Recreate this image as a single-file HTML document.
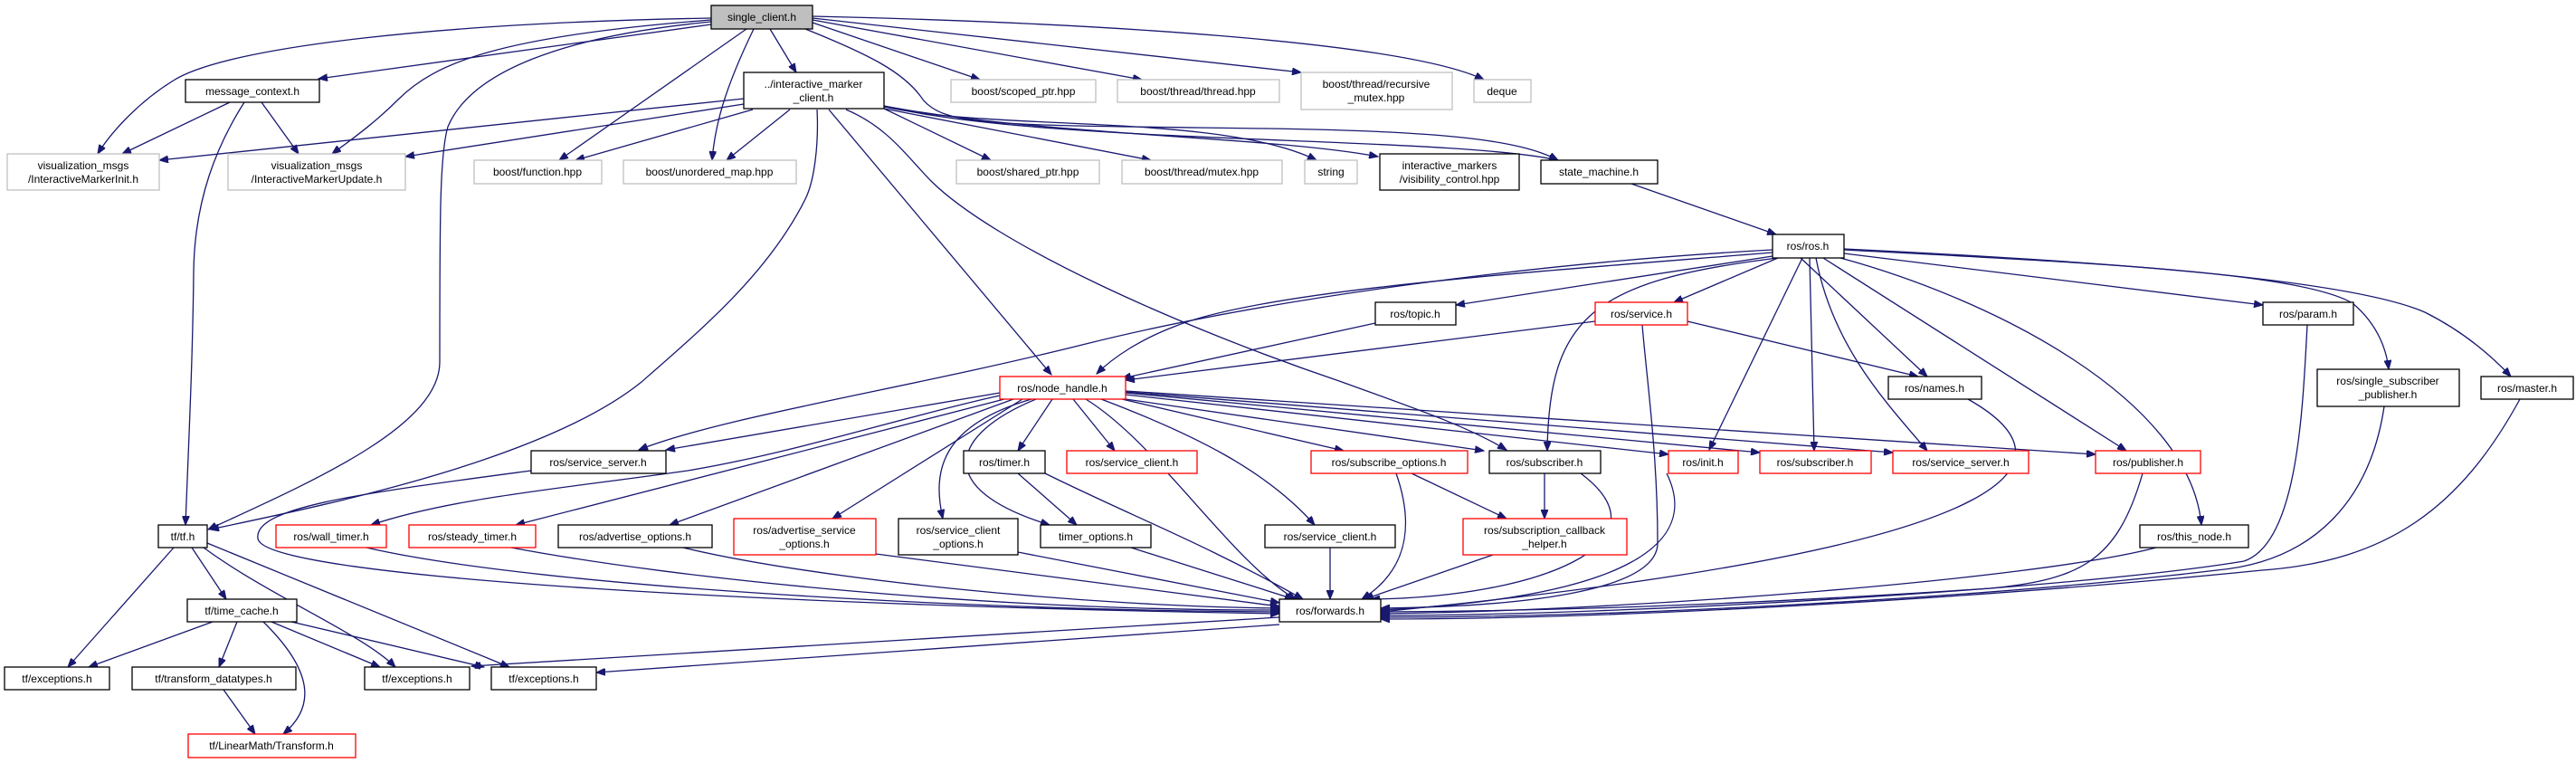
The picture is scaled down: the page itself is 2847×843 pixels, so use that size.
<!DOCTYPE html>
<html><head><meta charset="utf-8"><style>
html,body{margin:0;padding:0;background:#fff;}
svg{display:block;}
text{font-family:"Liberation Sans",sans-serif;font-size:12px;fill:#000;text-anchor:middle;}
.e{fill:none;stroke:#191970;stroke-width:1.3;marker-end:url(#a);}
.k{fill:#fff;stroke:#000;stroke-width:1.3;}
.r{fill:#fff;stroke:#ff0000;stroke-width:1.3;}
.g{fill:#fff;stroke:#bfbfbf;stroke-width:1.3;}
</style></head><body>
<svg width="2847" height="843" viewBox="0 0 2847 843" xmlns="http://www.w3.org/2000/svg">
<defs><marker id="a" markerWidth="11" markerHeight="8" refX="10" refY="4" orient="auto" markerUnits="userSpaceOnUse"><path d="M0,0 L10,4 L0,8 z" fill="#191970" stroke="#191970"/></marker></defs>

<!-- edges from single_client -->
<path class="e" d="M786,20 C500,25 250,50 190,90 C150,115 120,150 108,170"/>
<path class="e" d="M786,27 L352,87"/>
<path class="e" d="M786,22 C550,40 480,70 440,110 C410,140 380,160 367,170"/>
<path class="e" d="M786,24 C620,40 520,80 495,140 C486,170 486,240 486,400 C486,470 350,530 230,585"/>
<path class="e" d="M825,32 L618,177"/>
<path class="e" d="M833,32 C800,100 790,140 787,177"/>
<path class="e" d="M851,32 L880,80"/>
<path class="e" d="M898,25 L1083,88"/>
<path class="e" d="M898,22 L1262,88"/>
<path class="e" d="M898,20 L1438,80"/>
<path class="e" d="M898,18 C1200,25 1550,45 1640,88"/>
<path class="e" d="M890,32 C960,60 1000,80 1020,110 C1045,140 1100,138 1400,142 C1600,145 1680,155 1722,177"/>

<!-- edges from interactive_marker_client -->
<path class="e" d="M822,109 L176,177"/>
<path class="e" d="M822,115 L448,173"/>
<path class="e" d="M832,121 L636,177"/>
<path class="e" d="M873,121 L803,177"/>
<path class="e" d="M916,121 L1162,414"/>
<path class="e" d="M903,121 C905,160 900,200 890,220 C850,300 780,360 709,422 C600,510 350,560 232,585"/>
<path class="e" d="M977,120 L1095,177"/>
<path class="e" d="M977,120 L1272,177"/>
<path class="e" d="M977,118 C1100,145 1350,125 1455,177"/>
<path class="e" d="M977,117 C1150,150 1400,150 1523,173"/>
<path class="e" d="M977,117 C1150,160 1600,150 1722,177"/>
<path class="e" d="M935,121 C980,140 1000,170 1029,200 C1100,270 1300,360 1483,422 C1560,450 1620,470 1665,497"/>

<!-- message_context -->
<path class="e" d="M254,113 L135,170"/>
<path class="e" d="M289,113 L330,170"/>
<path class="e" d="M270,113 C240,160 215,220 214,300 C213,400 208,500 205,580"/>

<!-- state_machine -> ros -->
<path class="e" d="M1803,203 L1963,259"/>

<!-- ros.h edges -->
<path class="e" d="M1959,276 C1700,290 1400,330 1200,380 C1000,430 800,460 706,497"/>
<path class="e" d="M1959,279 C1700,300 1400,320 1300,360 C1260,375 1230,395 1212,413"/>
<path class="e" d="M1959,283 L1609,337"/>
<path class="e" d="M1965,285 L1850,334"/>
<path class="e" d="M1965,285 C1760,310 1712,350 1710,498"/>
<path class="e" d="M1990,285 L2130,416"/>
<path class="e" d="M1992,285 L1889,497"/>
<path class="e" d="M2000,285 L2005,498"/>
<path class="e" d="M2007,285 C2025,380 2080,440 2130,498"/>
<path class="e" d="M2015,285 L2350,498"/>
<path class="e" d="M2034,285 C2200,330 2420,440 2433,580"/>
<path class="e" d="M2038,280 L2501,337"/>
<path class="e" d="M2038,276 C2300,290 2540,300 2600,335 C2630,360 2638,390 2640,408"/>
<path class="e" d="M2038,275 C2350,290 2600,310 2680,345 C2730,370 2760,400 2775,416"/>

<!-- service.h -->
<path class="e" d="M1763,355 L1244,420"/>
<path class="e" d="M1865,355 L2120,416"/>
<path class="e" d="M1815,359 C1820,420 1832,500 1832,600 C1832,650 1700,670 1526,672"/>
<!-- topic -->
<path class="e" d="M1520,357 L1240,418"/>

<!-- node_handle edges -->
<path class="e" d="M1105,434 L736,497"/>
<path class="e" d="M1105,437 C1000,460 880,500 760,520 C620,540 500,550 410,580"/>
<path class="e" d="M1110,441 L570,580"/>
<path class="e" d="M1120,441 L740,580"/>
<path class="e" d="M1130,441 L920,573"/>
<path class="e" d="M1140,441 C1040,470 1030,520 1042,573"/>
<path class="e" d="M1145,441 C1050,480 1030,540 1160,580"/>
<path class="e" d="M1163,441 L1125,498"/>
<path class="e" d="M1186,441 L1232,498"/>
<path class="e" d="M1200,441 C1280,490 1360,620 1432,662"/>
<path class="e" d="M1217,441 C1320,480 1400,520 1453,580"/>
<path class="e" d="M1240,441 L1485,498"/>
<path class="e" d="M1244,441 L1640,498"/>
<path class="e" d="M1244,436 L1844,502"/>
<path class="e" d="M1244,434 L1945,500"/>
<path class="e" d="M1244,433 L2092,500"/>
<path class="e" d="M1244,432 L2316,502"/>

<!-- to forwards -->
<path class="e" d="M2175,441 C2280,500 2300,600 1526,676"/>
<path class="e" d="M2550,359 C2545,450 2540,600 2480,620 C2300,650 1800,680 1526,680"/>
<path class="e" d="M2635,449 C2620,550 2560,620 2450,630 C2200,660 1800,682 1526,682"/>
<path class="e" d="M2785,441 C2720,560 2640,620 2500,630 C2200,660 1800,684 1526,684"/>
<path class="e" d="M2383,605 C2250,640 1800,675 1526,678"/>
<path class="e" d="M2368,523 C2340,620 2300,640 2200,650 C1900,670 1700,675 1526,676"/>
<path class="e" d="M1842,523 C1880,600 1800,660 1526,674"/>
<path class="e" d="M1747,523 C1850,600 1700,660 1515,662"/>
<path class="e" d="M1650,613 L1508,662"/>
<path class="e" d="M1543,523 C1570,600 1540,640 1505,662"/>
<path class="e" d="M1560,523 L1665,573"/>
<path class="e" d="M1707,523 L1707,573"/>
<path class="e" d="M1470,605 L1470,662"/>
<path class="e" d="M1125,523 L1190,580"/>
<path class="e" d="M1155,523 C1250,570 1330,600 1440,662"/>
<path class="e" d="M1250,605 L1430,662"/>
<path class="e" d="M1125,610 L1414,666"/>
<path class="e" d="M968,612 L1414,670"/>
<path class="e" d="M755,605 C900,640 1200,670 1414,672"/>
<path class="e" d="M565,605 C750,640 1100,675 1414,674"/>
<path class="e" d="M405,605 C600,650 1100,675 1414,676"/>
<path class="e" d="M587,520 C400,545 280,560 285,595 C290,640 900,670 1414,678"/>

<!-- forwards -> exceptions -->
<path class="e" d="M1414,690 L659,743"/>
<path class="e" d="M1414,682 L521,736"/>

<!-- tf -->
<path class="e" d="M192,605 L75,737"/>
<path class="e" d="M212,605 L250,662"/>
<path class="e" d="M225,605 C300,660 400,700 437,737"/>
<path class="e" d="M229,600 L563,737"/>
<path class="e" d="M235,687 L98,737"/>
<path class="e" d="M262,687 L242,737"/>
<path class="e" d="M291,687 C345,740 350,780 313,811"/>
<path class="e" d="M300,687 L420,737"/>
<path class="e" d="M322,687 L535,737"/>
<path class="e" d="M247,762 L282,811"/>

<!-- nodes -->
<rect x="786" y="6" width="112" height="26" fill="#bfbfbf" stroke="#000" stroke-width="1.3"/><text x="842" y="23">single_client.h</text>
<rect class="k" x="205" y="88" width="148" height="25"/><text x="279" y="105">message_context.h</text>
<rect class="k" x="822" y="80" width="155" height="40"/><text x="899" y="97">../interactive_marker</text><text x="899" y="112">_client.h</text>
<rect class="g" x="8" y="170" width="168" height="40"/><text x="92" y="187">visualization_msgs</text><text x="92" y="202">/InteractiveMarkerInit.h</text>
<rect class="g" x="252" y="170" width="196" height="40"/><text x="350" y="187">visualization_msgs</text><text x="350" y="202">/InteractiveMarkerUpdate.h</text>
<rect class="g" x="524" y="177" width="141" height="26"/><text x="594" y="194">boost/function.hpp</text>
<rect class="g" x="689" y="177" width="191" height="26"/><text x="784" y="194">boost/unordered_map.hpp</text>
<rect class="g" x="1051" y="88" width="160" height="25"/><text x="1131" y="105">boost/scoped_ptr.hpp</text>
<rect class="g" x="1235" y="88" width="179" height="25"/><text x="1324" y="105">boost/thread/thread.hpp</text>
<rect class="g" x="1438" y="80" width="167" height="41"/><text x="1521" y="97">boost/thread/recursive</text><text x="1521" y="112">_mutex.hpp</text>
<rect class="g" x="1629" y="88" width="63" height="25"/><text x="1660" y="105">deque</text>
<rect class="g" x="1057" y="177" width="158" height="26"/><text x="1136" y="194">boost/shared_ptr.hpp</text>
<rect class="g" x="1240" y="177" width="177" height="26"/><text x="1328" y="194">boost/thread/mutex.hpp</text>
<rect class="g" x="1442" y="177" width="58" height="26"/><text x="1471" y="194">string</text>
<rect class="k" x="1525" y="170" width="154" height="40"/><text x="1602" y="187">interactive_markers</text><text x="1602" y="202">/visibility_control.hpp</text>
<rect class="k" x="1703" y="177" width="129" height="26"/><text x="1767" y="194">state_machine.h</text>
<rect class="k" x="1959" y="259" width="79" height="26"/><text x="1998" y="276">ros/ros.h</text>
<rect class="k" x="1520" y="334" width="89" height="25"/><text x="1564" y="351">ros/topic.h</text>
<rect class="r" x="1763" y="334" width="102" height="25"/><text x="1814" y="351">ros/service.h</text>
<rect class="k" x="2501" y="334" width="100" height="25"/><text x="2551" y="351">ros/param.h</text>
<rect class="r" x="1105" y="416" width="139" height="25"/><text x="1174" y="433">ros/node_handle.h</text>
<rect class="k" x="2087" y="416" width="103" height="25"/><text x="2138" y="433">ros/names.h</text>
<rect class="k" x="2561" y="408" width="157" height="41"/><text x="2639" y="425">ros/single_subscriber</text><text x="2639" y="440">_publisher.h</text>
<rect class="k" x="2742" y="416" width="102" height="25"/><text x="2793" y="433">ros/master.h</text>
<rect class="k" x="587" y="498" width="149" height="25"/><text x="661" y="515">ros/service_server.h</text>
<rect class="k" x="1065" y="498" width="90" height="25"/><text x="1110" y="515">ros/timer.h</text>
<rect class="r" x="1179" y="498" width="144" height="25"/><text x="1251" y="515">ros/service_client.h</text>
<rect class="r" x="1449" y="498" width="173" height="25"/><text x="1535" y="515">ros/subscribe_options.h</text>
<rect class="k" x="1646" y="498" width="123" height="25"/><text x="1707" y="515">ros/subscriber.h</text>
<rect class="r" x="1844" y="498" width="77" height="25"/><text x="1882" y="515">ros/init.h</text>
<rect class="r" x="1945" y="498" width="123" height="25"/><text x="2006" y="515">ros/subscriber.h</text>
<rect class="r" x="2092" y="498" width="150" height="25"/><text x="2167" y="515">ros/service_server.h</text>
<rect class="r" x="2316" y="498" width="116" height="25"/><text x="2374" y="515">ros/publisher.h</text>
<rect class="k" x="175" y="580" width="54" height="25"/><text x="202" y="597">tf/tf.h</text>
<rect class="r" x="305" y="580" width="122" height="25"/><text x="366" y="597">ros/wall_timer.h</text>
<rect class="r" x="452" y="580" width="140" height="25"/><text x="522" y="597">ros/steady_timer.h</text>
<rect class="k" x="617" y="580" width="170" height="25"/><text x="702" y="597">ros/advertise_options.h</text>
<rect class="r" x="811" y="573" width="157" height="40"/><text x="889" y="590">ros/advertise_service</text><text x="889" y="605">_options.h</text>
<rect class="k" x="993" y="573" width="132" height="40"/><text x="1059" y="590">ros/service_client</text><text x="1059" y="605">_options.h</text>
<rect class="k" x="1150" y="580" width="122" height="25"/><text x="1211" y="597">timer_options.h</text>
<rect class="k" x="1398" y="580" width="144" height="25"/><text x="1470" y="597">ros/service_client.h</text>
<rect class="r" x="1617" y="573" width="181" height="40"/><text x="1707" y="590">ros/subscription_callback</text><text x="1707" y="605">_helper.h</text>
<rect class="k" x="2365" y="580" width="120" height="25"/><text x="2425" y="597">ros/this_node.h</text>
<rect class="k" x="207" y="662" width="121" height="25"/><text x="267" y="679">tf/time_cache.h</text>
<rect class="k" x="1414" y="662" width="112" height="25"/><text x="1470" y="679">ros/forwards.h</text>
<rect class="k" x="5" y="737" width="116" height="25"/><text x="63" y="754">tf/exceptions.h</text>
<rect class="k" x="146" y="737" width="181" height="25"/><text x="236" y="754">tf/transform_datatypes.h</text>
<rect class="k" x="403" y="737" width="116" height="25"/><text x="461" y="754">tf/exceptions.h</text>
<rect class="k" x="543" y="737" width="116" height="25"/><text x="601" y="754">tf/exceptions.h</text>
<rect class="r" x="208" y="811" width="185" height="26"/><text x="300" y="828">tf/LinearMath/Transform.h</text>
</svg>
</body></html>
